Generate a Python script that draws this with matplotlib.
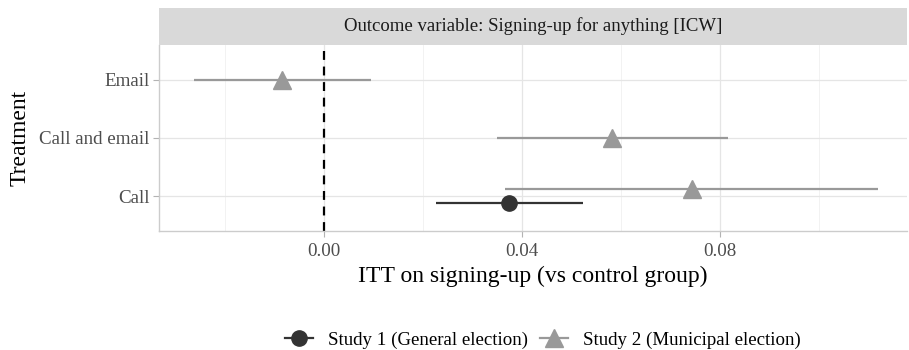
import matplotlib
matplotlib.use("Agg")
import matplotlib.pyplot as plt
from matplotlib.lines import Line2D
from matplotlib.patches import Rectangle
import numpy as np

plt.rcParams['font.family'] = ['Liberation Serif', 'DejaVu Serif']

categories = ["Call", "Call and email", "Email"]
# Study 1 (General election)
s1_treat = ["Call"]
s1_est = [0.0373]
s1_lo = [0.0226]
s1_hi = [0.0523]
# Study 2 (Municipal election)
s2_treat = ["Email", "Call and email", "Call"]
s2_est = [-0.0085, 0.0582, 0.0743]
s2_lo = [-0.0263, 0.0349, 0.0366]
s2_hi = [0.0094, 0.0816, 0.1119]

xticks = [0.00, 0.04, 0.08]
xtick_labels = ["0.00", "0.04", "0.08"]

W, H = 909, 350
fig = plt.figure(figsize=(W / 100, H / 100), dpi=100)
left, right, bottom, top = 159 / W, 907 / W, 1 - 231 / H, 1 - 45 / H
ax = fig.add_axes([left, bottom, right - left, top - bottom])

ax.set_xlim(-0.0334, 0.1178)
ax.set_ylim(0.4, 3.6)

c1 = "#333333"
c2 = "#999999"
dodge = 0.12
ypos = {c: i + 1 for i, c in enumerate(categories)}

both = set(s1_treat) & set(s2_treat)
for t, e, lo, hi in zip(s1_treat, s1_est, s1_lo, s1_hi):
    y = ypos[t] - (dodge if t in both else 0)
    ax.plot([lo, hi], [y, y], color=c1, lw=1.6, zorder=3, solid_capstyle='butt')
    ax.plot(e, y, marker='o', ms=11, color=c1, zorder=4, linestyle='none')
for t, e, lo, hi in zip(s2_treat, s2_est, s2_lo, s2_hi):
    y = ypos[t] + (dodge if t in both else 0)
    ax.plot([lo, hi], [y, y], color=c2, lw=1.6, zorder=3, solid_capstyle='butt')
    ax.plot(e, y, marker='^', ms=13, color=c2, zorder=4, linestyle='none')

ax.axvline(0, color='black', lw=1.6, ls=(0, (4, 3)), zorder=2)

# grid
ax.set_xticks(xticks)
ax.set_xticklabels(xtick_labels)
ax.set_xticks([-0.02, 0.02, 0.06, 0.10], minor=True)
ax.set_yticks([1, 2, 3])
ax.set_yticklabels(categories)
ax.grid(which='major', color='#E5E5E5', lw=0.9)
ax.grid(which='minor', axis='x', color='#F0F0F0', lw=0.6)
ax.set_axisbelow(True)
ax.tick_params(axis='both', which='major', colors='#B3B3B3', labelcolor='#4D4D4D',
               labelsize=13.7, length=4, width=0.8, pad=3)
ax.tick_params(axis='x', which='major', pad=5)
ax.tick_params(axis='x', which='minor', length=0)
for s in ax.spines.values():
    s.set_color('#CCCCCC')
    s.set_linewidth(1.0)
ax.spines['top'].set_visible(False)
ax.spines['right'].set_visible(False)

ax.set_xlabel("ITT on signing-up (vs control group)", fontsize=17, color='black', labelpad=4)
ax.set_ylabel("Treatment", fontsize=17, color='black', labelpad=6)

# strip
sb = 1 - 45 / H
st = 1 - 8 / H
fig.patches.append(Rectangle((left, sb), right - left, st - sb, transform=fig.transFigure,
                             facecolor='#D9D9D9', edgecolor='none', zorder=0))
fig.text((left + right) / 2, (sb + st) / 2, "Outcome variable: Signing-up for anything [ICW]",
         ha='center', va='center', fontsize=13.5, color='#1A1A1A')

handles = [
    Line2D([0], [0], color=c1, lw=1.6, marker='o', ms=11, label="Study 1 (General election)"),
    Line2D([0], [0], color=c2, lw=1.6, marker='^', ms=13, label="Study 2 (Municipal election)"),
]
fig.legend(handles=handles, loc='center', bbox_to_anchor=(543 / W, 1 - 340 / H), ncol=2,
           frameon=False, fontsize=13.6, handlelength=1.5, columnspacing=0.6, handletextpad=0.8)

fig.savefig("out.png", dpi=100)
